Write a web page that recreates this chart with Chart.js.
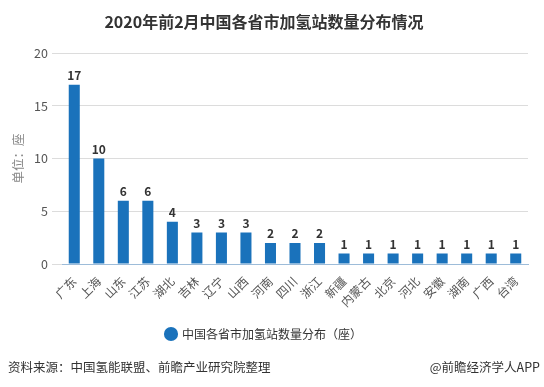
<!DOCTYPE html>
<html><head><meta charset="utf-8">
<script src="https://cdn.jsdelivr.net/npm/chart.js@4/dist/chart.umd.min.js"></script>
<style>
html,body{margin:0;padding:0;background:#fff;}
#wrap{position:relative;width:544px;height:387px;font-family:"Noto Sans CJK SC","Noto Sans",sans-serif;}
canvas{position:absolute;left:0;top:0;}
.foot{position:absolute;top:357px;font-size:12.5px;color:#333;}
</style></head><body>
<div id="wrap">
<canvas id="c" width="544" height="387"></canvas>
<div class="foot" style="left:8px;">资料来源：中国氢能联盟、前瞻产业研究院整理</div>
<div class="foot" style="right:4px;">@前瞻经济学人APP</div>
</div>
<script>
const categories = ["广东","上海","山东","江苏","湖北","吉林","辽宁","山西","河南","四川","浙江","新疆","内蒙古","北京","河北","安徽","湖南","广西","台湾"];
const values = [17,10,6,6,4,3,3,3,2,2,2,1,1,1,1,1,1,1,1];
const seriesName = "中国各省市加氢站数量分布（座）";
const chartTitle = "2020年前2月中国各省市加氢站数量分布情况";
const yTitle = "单位：座";
const font = '"Noto Sans CJK SC","Noto Sans",sans-serif';

const labelPlugin = {
  id:'valLabels',
  afterDatasetsDraw(chart){
    const ctx = chart.ctx;
    const meta = chart.getDatasetMeta(0);
    ctx.save();
    ctx.font = 'bold 12px ' + font;
    ctx.fillStyle = '#333';
    ctx.textAlign = 'center';
    ctx.textBaseline = 'bottom';
    meta.data.forEach((bar,i)=>{
      ctx.fillText(String(values[i]), bar.x, bar.y - 3);
    });
    ctx.restore();
  }
};

new Chart(document.getElementById('c'), {
  type:'bar',
  data:{labels:categories, datasets:[{label:seriesName, data:values, backgroundColor:'#1a72bb', borderWidth:0, barPercentage:0.9, categoryPercentage:0.5}]},
  options:{
    responsive:false, animation:false,
    layout:{padding:{left:0,right:16,top:0,bottom:37}},
    plugins:{
      title:{display:true,text:chartTitle,color:'#333',font:{family:font,size:16,weight:'bold'},padding:{top:12,bottom:22}},
      legend:{position:'bottom',labels:{usePointStyle:true,pointStyle:'circle',boxWidth:10,boxHeight:10,color:'#333',font:{family:font,size:12},padding:10}},
      tooltip:{enabled:false}
    },
    scales:{
      x:{
        grid:{display:false},
        border:{color:'#9dbcd9'},
        ticks:{color:'#555',font:{family:font,size:12},minRotation:45,maxRotation:45,autoSkip:false,padding:2},
        afterFit(s){s.height=54;}
      },
      y:{
        min:0,max:20,
        ticks:{stepSize:5,color:'#555',font:{family:font,size:12.5},padding:4},
        grid:{color:'#dcdcdc',tickLength:10,drawTicks:true},
        border:{display:false},
        title:{display:true,text:yTitle,color:'#888',font:{family:font,size:12.5},padding:{top:11,bottom:0}},
        afterFit(s){s.width=62;}
      }
    }
  },
  plugins:[labelPlugin]
});
</script>
</body></html>
